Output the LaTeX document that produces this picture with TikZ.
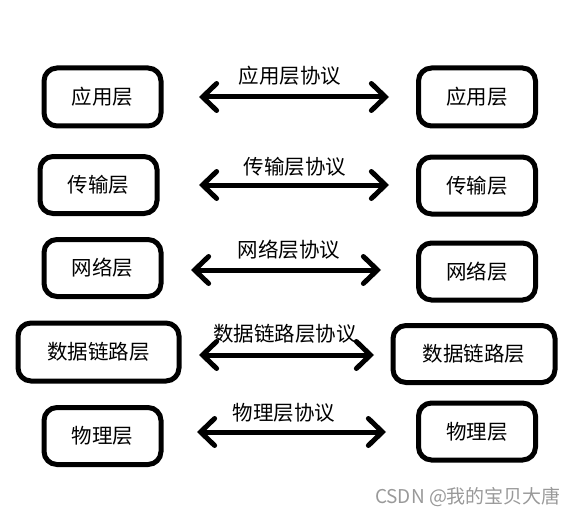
\documentclass[tikz,border=0pt]{standalone}
\usepackage{fontspec}
\setmainfont{Noto Sans CJK SC}
\usetikzlibrary{arrows.meta}
\begin{document}
\begin{tikzpicture}[x=1pt,y=-1pt,
  layerbox/.style={draw,line width=5pt,rounded corners=13pt,font=\fontsize{20.5pt}{24pt}\selectfont},
  proto/.style={line width=5pt,{Straight Barb[length=14pt,width=27pt,line cap=round]}-{Straight Barb[length=14pt,width=27pt,line cap=round]}},
  lbl/.style={font=\fontsize{20.5pt}{24pt}\selectfont}]
\useasboundingbox (0,0) rectangle (579,519);
% row 1
\node[layerbox,minimum width=117pt,minimum height=58pt] (a1) at (102.5,97) {应用层};
\node[layerbox,minimum width=117pt,minimum height=58pt] (b1) at (477,97) {应用层};
\coordinate (s1) at (199,97); \coordinate (e1) at (389,97);
\draw[proto] (s1) -- (e1);
\node[lbl] (l1) at (290,76) {应用层协议};
% row 2
\node[layerbox,minimum width=117pt,minimum height=57pt] (a2) at (98.5,185) {传输层};
\node[layerbox,minimum width=117pt,minimum height=57pt] (b2) at (477,185.5) {传输层};
\coordinate (s2) at (199,185); \coordinate (e2) at (389,185);
\draw[proto] (s2) -- (e2);
\node[lbl] (l2) at (295,167) {传输层协议};
% row 3
\node[layerbox,minimum width=117pt,minimum height=57pt] (a3) at (102.5,268) {网络层};
\node[layerbox,minimum width=117pt,minimum height=57pt] (b3) at (477,271.5) {网络层};
\coordinate (s3) at (191,270); \coordinate (e3) at (381,270);
\draw[proto] (s3) -- (e3);
\node[lbl] (l3) at (289,250) {网络层协议};
% row 4
\node[layerbox,minimum width=161pt,minimum height=58pt] (a4) at (98.5,352) {数据链路层};
\node[layerbox,minimum width=162pt,minimum height=57pt] (b4) at (474,354) {数据链路层};
\coordinate (s4) at (199,355); \coordinate (e4) at (374,355);
\draw[proto] (s4) -- (e4);
\node[lbl] (l4) at (285,334) {数据链路层协议};
% row 5
\node[layerbox,minimum width=117pt,minimum height=57pt] (a5) at (102.5,436) {物理层};
\node[layerbox,minimum width=117pt,minimum height=57pt] (b5) at (477,431.5) {物理层};
\coordinate (s5) at (197,432); \coordinate (e5) at (386,432);
\draw[proto] (s5) -- (e5);
\node[lbl] (l5) at (284,413) {物理层协议};
% watermark
\node[font=\fontsize{19pt}{22pt}\selectfont,text=black!40] (wm) at (468,497) {CSDN @我的宝贝大唐};
\end{tikzpicture}
\end{document}
